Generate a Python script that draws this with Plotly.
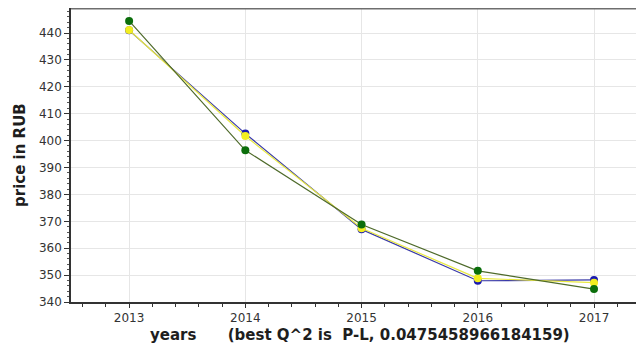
import plotly.graph_objects as go

years = [2013, 2014, 2015, 2016, 2017]
blue_vals = [441.0, 402.6, 367.0, 347.9, 348.2]
yellow_vals = [441.1, 401.7, 367.4, 348.8, 347.2]
green_vals = [444.5, 396.4, 368.8, 351.6, 344.8]

y_ticks = [340, 350, 360, 370, 380, 390, 400, 410, 420, 430, 440]

series = [
    ("blue", blue_vals, "#3a3aa8", "#1a1ab0"),
    ("yellow", yellow_vals, "#e8e840", "#f2ee20"),
    ("green", green_vals, "#4e6a2a", "#0b6e0b"),
]

fig = go.Figure()
for name, vals, lc, mc in series:
    fig.add_trace(go.Scatter(
        x=years, y=vals, mode="lines+markers", name=name,
        line=dict(color=lc, width=1.2),
        marker=dict(color=mc, size=8),
        showlegend=False,
    ))

font_family = "DejaVu Sans, Verdana, sans-serif"
fig.update_layout(
    width=636, height=341,
    margin=dict(l=63, r=0, t=0, b=47),
    paper_bgcolor="white", plot_bgcolor="white",
    font=dict(family=font_family, color="#333333", size=12),
    xaxis=dict(
        range=[2012.5, 2017.43],
        tickvals=years, ticktext=[str(y) for y in years],
        showgrid=True, gridcolor="#e6e6e6", gridwidth=1,
        showline=True, linecolor="#333333", linewidth=1.5,
        ticks="outside", ticklen=4, tickcolor="#333333",
        minor=dict(dtick=0.2, tick0=2013, ticks="outside", ticklen=3, tickcolor="#333333", showgrid=False),
        zeroline=False, automargin=False,
        tickfont=dict(size=12),
    ),
    yaxis=dict(
        range=[340, 449.3],
        tickvals=y_ticks,
        showgrid=True, gridcolor="#e6e6e6", gridwidth=1,
        showline=True, linecolor="#333333", linewidth=1.5,
        ticks="outside", ticklen=5, tickcolor="#333333",
        minor=dict(dtick=2, ticks="outside", ticklen=2, tickcolor="#555555", showgrid=False),
        zeroline=False, automargin=False,
        tickfont=dict(size=12),
    ),
    shapes=[dict(type="line", xref="paper", yref="paper", x0=0, x1=1, y0=1, y1=1,
                 line=dict(color="#6e6e6e", width=3))],
    annotations=[
        dict(text="<b>years&nbsp;&nbsp;&nbsp;&nbsp;&nbsp;&nbsp;(best Q^2 is&nbsp; P-L, 0.0475458966184159)</b>",
             xref="paper", yref="paper", x=0.504, y=0, yshift=-33,
             xanchor="center", yanchor="middle", showarrow=False,
             font=dict(size=15, color="#1e1e1e")),
        dict(text="<b>price in RUB</b>", textangle=-90,
             xref="paper", yref="paper", x=0, y=0.5, xshift=-51,
             xanchor="center", yanchor="middle", showarrow=False,
             font=dict(size=15, color="#1e1e1e")),
    ],
)

fig.write_html("out.html")
